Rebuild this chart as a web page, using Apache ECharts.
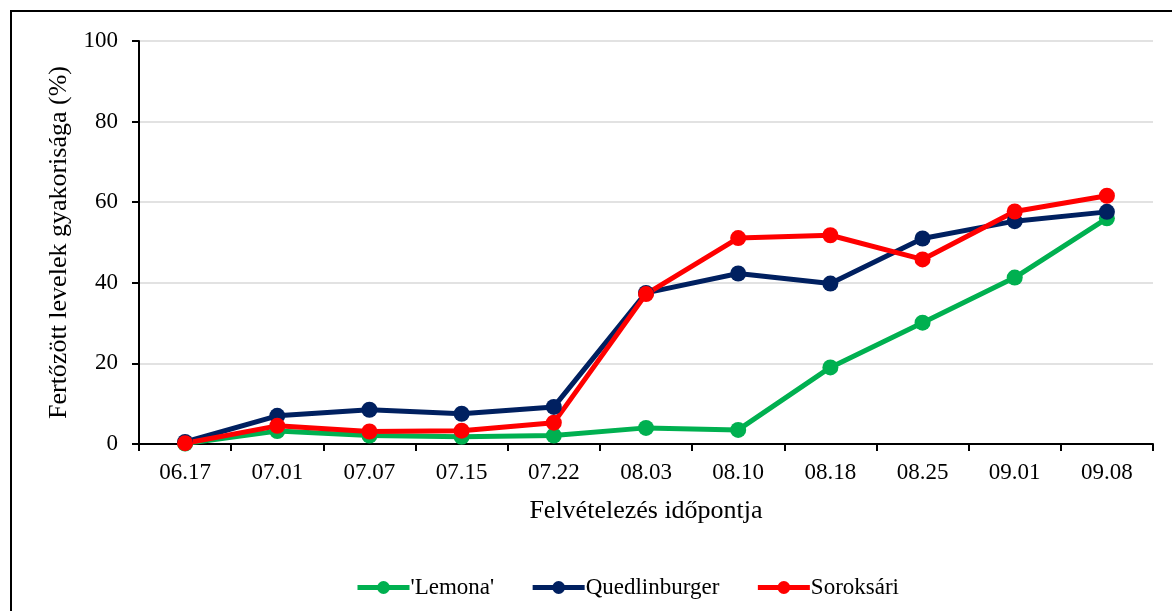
<!DOCTYPE html>
<html>
<head>
<meta charset="utf-8">
<script src="https://cdn.jsdelivr.net/npm/echarts@6/dist/echarts.min.js"></script>
<style>
  html, body { margin: 0; padding: 0; background: #fff; }
  #chart { width: 1172px; height: 611px; }
</style>
</head>
<body>
<div id="chart"></div>
<script>
// dates of the surveys
const categories = ['06.17', '07.01', '07.07', '07.15', '07.22', '08.03', '08.10', '08.18', '08.25', '09.01', '09.08'];
const lemona = [0.1, 3.2, 2.1, 1.8, 2.1, 4.0, 3.5, 19.0, 30.1, 41.3, 56.0];
const quedlinburger = [0.5, 7.0, 8.5, 7.5, 9.2, 37.5, 42.3, 39.8, 51.0, 55.3, 57.6];
const soroksari = [0.2, 4.5, 3.1, 3.3, 5.3, 37.2, 51.1, 51.8, 45.8, 57.7, 61.6];
const yTicks = [0, 20, 40, 60, 80, 100];

const font = '"Liberation Serif", "Times New Roman", serif';
const chart = echarts.init(document.getElementById('chart'));

const mkSeries = (name, data, color) => ({
  name,
  type: 'line',
  data,
  symbol: 'circle',
  symbolSize: 16,
  lineStyle: { width: 5, color },
  itemStyle: { color },
  animation: false
});

chart.setOption({
  animation: false,
  textStyle: { fontFamily: font },
  graphic: [{
    type: 'rect',
    shape: { x: 11, y: 11, width: 1200, height: 700 },
    style: { fill: 'none', stroke: '#000', lineWidth: 2 },
    z: 0
  }],
  grid: { left: 139, top: 41, right: 19, bottom: 167, containLabel: false },
  legend: {
    top: 571,
    left: 350,
    itemWidth: 52,
    itemHeight: 16,
    itemGap: 36,
    lineStyle: { width: 5 },
    textStyle: { fontFamily: font, fontSize: 23, color: '#000', padding: [0, 0, 0, -4] },
    data: ["'Lemona'", 'Quedlinburger', 'Soroksári']
  },
  xAxis: {
    type: 'category',
    data: categories,
    boundaryGap: true,
    name: 'Felvételezés időpontja',
    nameLocation: 'middle',
    nameGap: 54,
    nameTextStyle: { fontFamily: font, fontSize: 26, color: '#000' },
    axisLine: { lineStyle: { color: '#000', width: 2 } },
    axisTick: { show: true, alignWithLabel: false, length: 7, lineStyle: { color: '#000', width: 2 } },
    axisLabel: { fontFamily: font, fontSize: 23, color: '#000', margin: 17 },
    splitLine: { show: false }
  },
  yAxis: {
    type: 'value',
    min: yTicks[0],
    max: yTicks[yTicks.length - 1],
    interval: 20,
    name: 'Fertőzött levelek gyakorisága (%)',
    nameLocation: 'middle',
    nameGap: 64,
    nameTextStyle: { fontFamily: font, fontSize: 26, color: '#000' },
    axisLine: { show: true, lineStyle: { color: '#000', width: 2 } },
    axisTick: { show: true, length: 7, lineStyle: { color: '#000', width: 2 } },
    axisLabel: { fontFamily: font, fontSize: 23, color: '#000', margin: 21 },
    splitLine: { show: true, lineStyle: { color: '#d9d9d9', width: 1.5 } }
  },
  series: [
    mkSeries("'Lemona'", lemona, '#00b050'),
    mkSeries('Quedlinburger', quedlinburger, '#002060'),
    mkSeries('Soroksári', soroksari, '#ff0000')
  ]
});
</script>
</body>
</html>
